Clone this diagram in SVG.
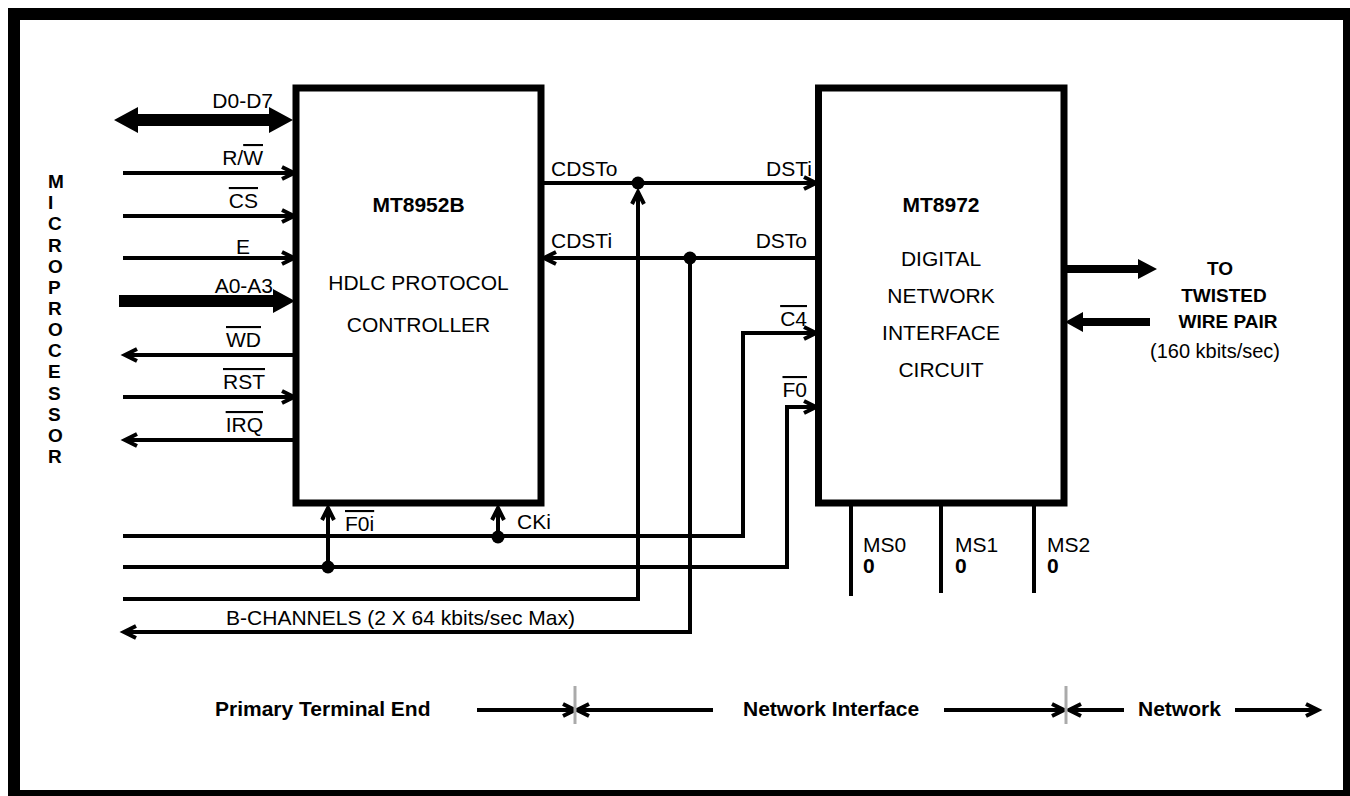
<svg xmlns="http://www.w3.org/2000/svg" width="1350" height="796" viewBox="0 0 1350 796">
<style>
text{font-family:"Liberation Sans",Arial,sans-serif;font-size:21px;fill:#000}
.b{font-weight:bold}
.m{font-weight:bold;font-size:19px}
.ol{text-decoration:overline}
.box{fill:#fff;stroke:#000;stroke-width:7}
.w{fill:none;stroke:#000;stroke-width:4}
.a{fill:none;stroke:#000;stroke-width:4;marker-end:url(#ch)}
.tick{stroke:#aaa;stroke-width:3}
</style>
<defs>
<marker id="ch" markerUnits="userSpaceOnUse" viewBox="-16 -10 20 20" refX="0" refY="0" markerWidth="20" markerHeight="20" orient="auto" overflow="visible">
<path d="M-12,-6 L0,0 L-12,6" fill="none" stroke="#000" stroke-width="4" stroke-linejoin="miter"/>
</marker>
</defs>
<rect x="14" y="14" width="1335" height="782" fill="#fff" stroke="#000" stroke-width="12"/>

<g id="microprocessor">
<text class="m" x="48" y="188">M</text>
<text class="m" x="48" y="209">I</text>
<text class="m" x="48" y="230">C</text>
<text class="m" x="48" y="251.5">R</text>
<text class="m" x="48" y="272.5">O</text>
<text class="m" x="48" y="294">P</text>
<text class="m" x="48" y="315">R</text>
<text class="m" x="48" y="336">O</text>
<text class="m" x="48" y="357">C</text>
<text class="m" x="48" y="378">E</text>
<text class="m" x="48" y="399.5">S</text>
<text class="m" x="48" y="420.5">S</text>
<text class="m" x="48" y="442">O</text>
<text class="m" x="48" y="463">R</text>
</g>

<g id="mt8952b">
<rect class="box" x="296" y="88" width="245" height="415"/>
<text class="b" x="418.5" y="212" text-anchor="middle">MT8952B</text>
<text x="418.5" y="290" text-anchor="middle">HDLC PROTOCOL</text>
<text x="418.5" y="332" text-anchor="middle">CONTROLLER</text>
</g>

<g id="mt8972">
<rect class="box" x="818.5" y="88" width="245.5" height="415"/>
<text class="b" x="941" y="212" text-anchor="middle">MT8972</text>
<text x="941" y="266" text-anchor="middle">DIGITAL</text>
<text x="941" y="303" text-anchor="middle">NETWORK</text>
<text x="941" y="340" text-anchor="middle">INTERFACE</text>
<text x="941" y="377" text-anchor="middle">CIRCUIT</text>
</g>

<g id="twisted-pair">
<text class="m" x="1220" y="275" text-anchor="middle">TO</text>
<text class="m" x="1224" y="302" text-anchor="middle">TWISTED</text>
<text class="m" x="1228" y="328" text-anchor="middle">WIRE PAIR</text>
<text x="1215" y="358" text-anchor="middle" style="font-size:20px">(160 kbits/sec)</text>
</g>

<g id="connectors">
<polygon points="114,120 138,107 138,114 269,114 269,107 293,120 269,133 269,126 138,126 138,133"/>
<polygon points="119,295 273,295 273,289 295,301 273,313 273,307 119,307"/>
<polygon points="1067,265 1138,265 1138,259 1157,269 1138,279 1138,273 1067,273"/>
<polygon points="1150,318 1083,318 1083,312 1065,322 1083,332 1083,326 1150,326"/>

<path class="a" d="M123,173 H294"/>
<path class="a" d="M123,216 H294"/>
<path class="a" d="M123,258 H294"/>
<path class="a" d="M293,355 H125"/>
<path class="a" d="M123,397 H294"/>
<path class="a" d="M293,440 H125"/>

<path class="a" d="M541,183 H816"/>
<path class="a" d="M815,258 H544"/>
<path class="a" d="M123,599 H638 V192"/>
<path class="a" d="M690,258 V632 H124"/>
<path class="a" d="M123,536 H743 V333 H816"/>
<path class="a" d="M123,567 H787 V407 H816"/>
<path class="a" d="M328,567 V508"/>
<path class="a" d="M498,537 V508"/>
<circle cx="638" cy="183" r="6.5"/>
<circle cx="690" cy="258" r="6.5"/>
<circle cx="328" cy="567" r="6.5"/>
<circle cx="498" cy="537" r="6.5"/>

<path class="w" d="M851,506 V596 M941,506 V593 M1034,506 V593"/>

<path class="a" d="M477,710 H575"/>
<path class="a" d="M713,710 H577"/>
<path class="a" d="M944,710 H1064"/>
<path class="a" d="M1124,710 H1069"/>
<path class="a" d="M1235,710 H1318"/>
<line class="tick" x1="575" y1="686" x2="575" y2="724"/>
<line class="tick" x1="1066" y1="686" x2="1066" y2="724"/>
</g>

<g id="labels">
<text x="273" y="108" text-anchor="end">D0-D7</text>
<text x="263" y="165" text-anchor="end">R/<tspan class="ol">W</tspan></text>
<text x="258" y="208" text-anchor="end" class="ol">CS</text>
<text x="250" y="254" text-anchor="end">E</text>
<text x="273" y="293" text-anchor="end">A0-A3</text>
<text x="261" y="347" text-anchor="end" class="ol">WD</text>
<text x="265" y="389" text-anchor="end" class="ol">RST</text>
<text x="263" y="432" text-anchor="end" class="ol">IRQ</text>
<text x="551" y="176">CDSTo</text>
<text x="812" y="176" text-anchor="end">DSTi</text>
<text x="551" y="248">CDSTi</text>
<text x="807" y="248" text-anchor="end">DSTo</text>
<text x="807" y="326" text-anchor="end" class="ol">C4</text>
<text x="807" y="397" text-anchor="end" class="ol">F0</text>
<text x="345" y="531"><tspan class="ol">F0i</tspan></text>
<text x="517" y="529">CKi</text>
<text x="575" y="625" text-anchor="end">B-CHANNELS (2 X 64 kbits/sec Max)</text>
<text x="863" y="552">MS0</text>
<text class="b" x="863" y="573">0</text>
<text x="955" y="552">MS1</text>
<text class="b" x="955" y="573">0</text>
<text x="1047" y="552">MS2</text>
<text class="b" x="1047" y="573">0</text>
<text class="b" x="215" y="716">Primary Terminal End</text>
<text class="b" x="743" y="716">Network Interface</text>
<text class="b" x="1138" y="716">Network</text>
</g>
</svg>
